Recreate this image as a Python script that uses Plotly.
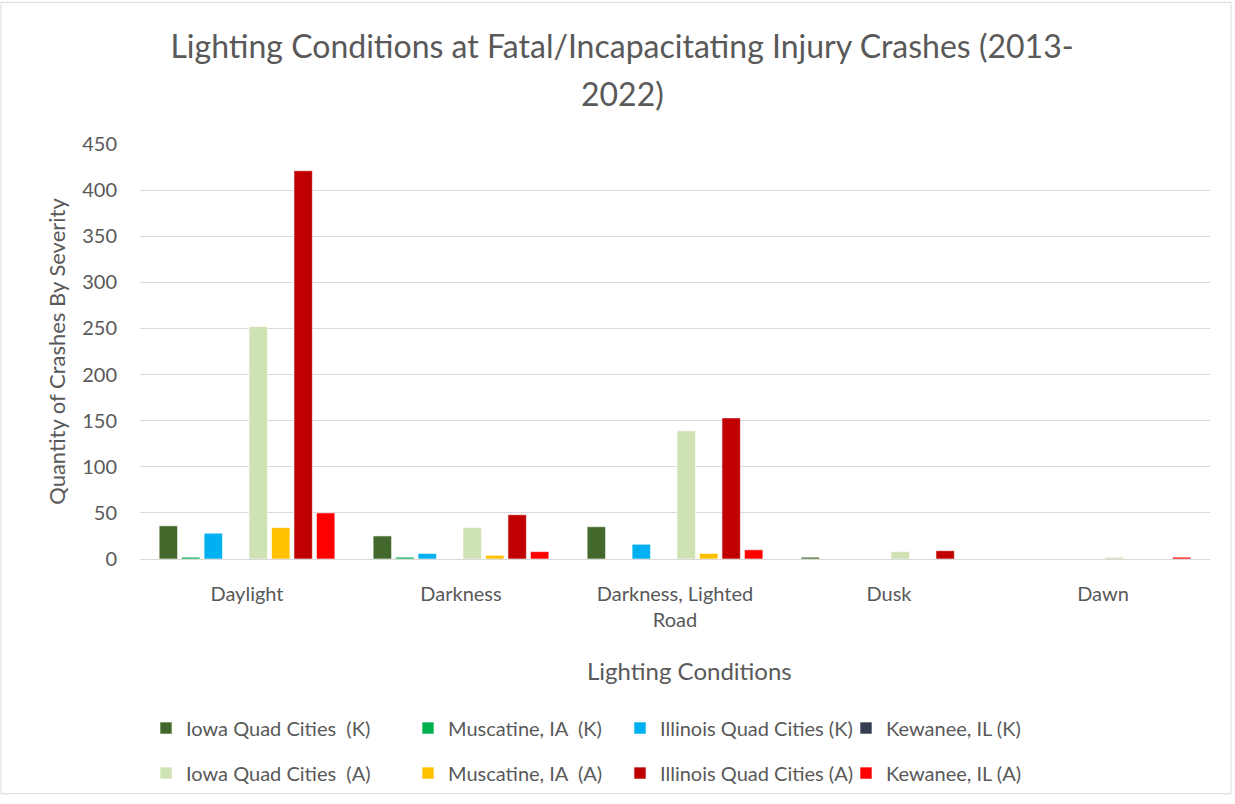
import plotly.graph_objects as go

categories = ["Daylight", "Darkness", "Darkness, Lighted<br>Road", "Dusk", "Dawn"]

series_names = [
    "Iowa Quad Cities  (K)", "Muscatine, IA  (K)", "Illinois Quad Cities (K)", "Kewanee, IL (K)",
    "Iowa Quad Cities  (A)", "Muscatine, IA  (A)", "Illinois Quad Cities (A)", "Kewanee, IL (A)",
]
iowa_k = [36, 25, 35, 2, 0]
muscatine_k = [2, 2, 0, 0, 0]
illinois_k = [28, 6, 16, 0, 0]
kewanee_k = [0, 0, 0, 0, 0]
iowa_a = [252, 34, 139, 8, 2]
muscatine_a = [34, 4, 6, 0, 0]
illinois_a = [421, 48, 153, 9, 0]
kewanee_a = [50, 8, 10, 0, 2]

series_values = [iowa_k, muscatine_k, illinois_k, kewanee_k, iowa_a, muscatine_a, illinois_a, kewanee_a]
colors = ["#43682B", "#00B050", "#00B0F0", "#333F50", "#CFE2B3", "#FFC000", "#C00000", "#FF0000"]
legend_ids = ["legend", "legend2", "legend3", "legend4"] * 2

title_line1 = "Lighting Conditions at Fatal/Incapacitating Injury Crashes (2013-"
title_line2 = "2022)"
x_title = "Lighting Conditions"
y_title = "Quantity of Crashes By Severity"

FONT = "Lato"
GREY = "#595959"

fig = go.Figure()
for i, (name, vals, col) in enumerate(zip(series_names, series_values, colors)):
    fig.add_trace(go.Bar(
        x=categories, y=vals, name=name,
        marker=dict(color=col, line=dict(color="rgba(255,255,255,0.6)", width=1)),
        legend=legend_ids[i], legendgroup=name,
    ))

L, R, T, B = 140, 25, 144, 241
W, H = 1235, 804
pw, ph = W - L - R, H - T - B

def px_x(p):
    return (p - L) / pw

def px_y(p):
    return (H - B - p) / ph

leg_common = dict(orientation="v", font=dict(family=FONT, size=20, color=GREY),
                  tracegroupgap=16, yanchor="top", xanchor="left",
                  bgcolor="rgba(0,0,0,0)", itemwidth=30)
col_x = [146, 408, 620, 846]

fig.update_layout(
    width=W, height=H,
    margin=dict(l=L, r=R, t=T, b=B),
    paper_bgcolor="white", plot_bgcolor="white",
    barmode="group", bargap=0.16, bargroupgap=0.18,
    font=dict(family=FONT, color=GREY),
    title=dict(text=title_line1, x=622 / W, xanchor="center", xref="container",
               y=1 - 47 / H, yanchor="middle",
               font=dict(family=FONT, size=32, color=GREY)),
    annotations=[
        dict(text=title_line2, xref="paper", yref="paper", x=px_x(622), y=px_y(93),
             xanchor="center", yanchor="middle", showarrow=False,
             font=dict(family=FONT, size=32, color=GREY)),
        dict(text=x_title, xref="paper", yref="paper", x=px_x(690), y=px_y(676),
             xanchor="center", yanchor="middle", showarrow=False,
             font=dict(family=FONT, size=24, color=GREY)),
    ],
    xaxis=dict(tickfont=dict(size=20, color=GREY), showline=True, linecolor="#D9D9D9",
               linewidth=1, ticks="", showgrid=False, ticklabelstandoff=17),
    yaxis=dict(title=dict(text=y_title, font=dict(size=22, color=GREY), standoff=10),
               range=[0, 450], dtick=50, tickfont=dict(size=20, color=GREY),
               gridcolor="#D9D9D9", gridwidth=1, zeroline=False, showline=False, ticks="",
               ticklabelstandoff=22),
    legend=dict(x=px_x(col_x[0]), y=px_y(714), **leg_common),
    legend2=dict(x=px_x(col_x[1]), y=px_y(714), **leg_common),
    legend3=dict(x=px_x(col_x[2]), y=px_y(714), **leg_common),
    legend4=dict(x=px_x(col_x[3]), y=px_y(714), **leg_common),
    shapes=[dict(type="rect", xref="paper", yref="paper",
                 x0=px_x(1), x1=px_x(1231), y0=px_y(800), y1=px_y(1),
                 line=dict(color="#D9D9D9", width=1), fillcolor="rgba(0,0,0,0)", layer="below")],
)

fig.write_html("out.html", config={"displayModeBar": False},
               post_script="document.body.style.margin='0';")
